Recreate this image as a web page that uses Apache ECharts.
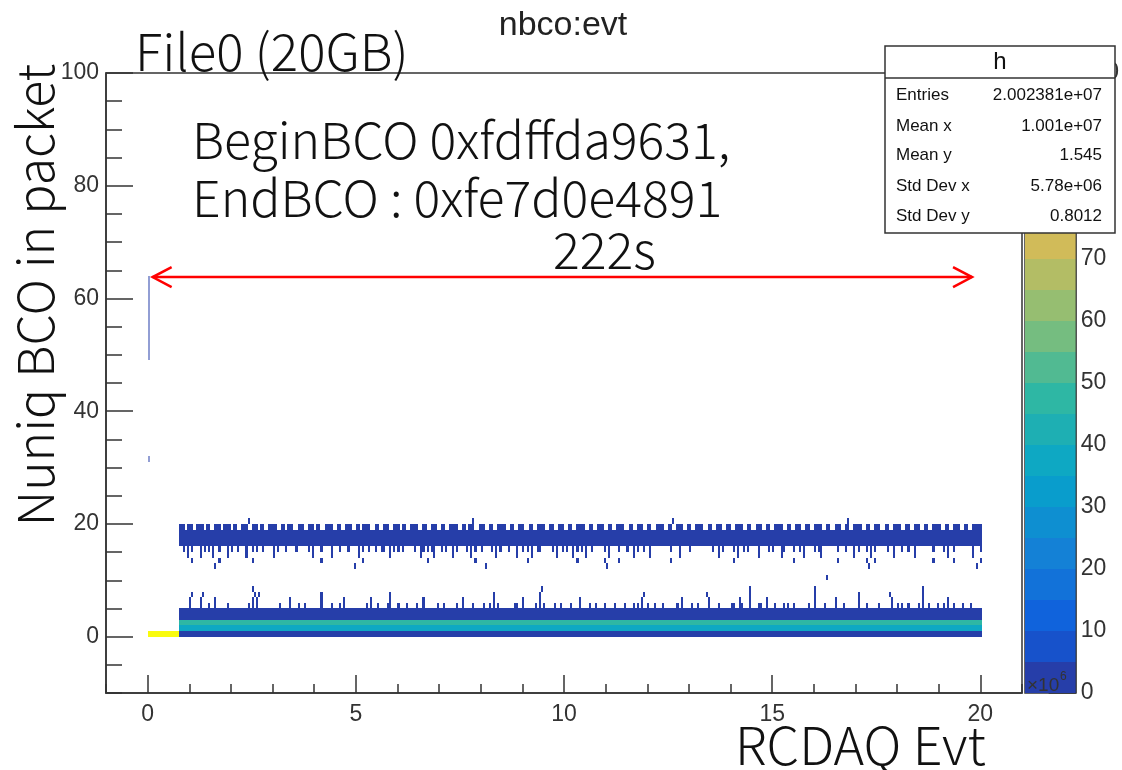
<!DOCTYPE html>
<html><head><meta charset="utf-8">
<script src="https://cdn.jsdelivr.net/npm/echarts@6/dist/echarts.min.js"></script>
<style>html,body{margin:0;padding:0;background:#fff}#c{width:1122px;height:770px}</style>
</head><body><div id="c"></div>
<script>
// ---------------- data ----------------
const xTickLabels = [0, 5, 10, 15, 20];
const yTickLabels = [0, 20, 40, 60, 80, 100];
const zTickLabels = [0, 10, 20, 30, 40, 50, 60, 70, 80, 90, 100];
const zLevels = [0, 5, 10, 15, 20, 25, 30, 35, 40, 45, 50, 55, 60, 65, 70, 75, 80, 85, 90, 95, 100];
const statNames = ['Entries', 'Mean x', 'Mean y', 'Std Dev x', 'Std Dev y'];
const statValues = ['2.002381e+07', '1.001e+07', '1.545', '5.78e+06', '0.8012'];

const xBin = 0.05;               // RCDAQ Evt bin width (x10^6 evt)
// dense rows (Nuniq BCO bin) and their counts (x10^6)
const denseRows   = [0, 1, 2, 3, 4, 16, 17, 18];
const denseCounts = [4, 37, 48, 4, 3, 3, 3, 3];
const denseRange  = [0.75, 20.05];
// early events: row 0 saturated
const earlyRange = [0.0, 0.75];
const earlyRow = 0;
const earlyCount = 100;
const sparseCount = 2;

// partially filled top row of the upper band (filled runs)
const row19Runs = [[0.75,0.85],[0.95,1.05],[1.15,1.30],[1.40,1.45],[1.60,1.70],[1.80,1.95],[2.05,2.10],[2.25,2.35],[2.50,2.60],[2.70,2.75],[2.90,3.05],[3.20,3.25],[3.35,3.45],[3.60,3.70],[3.85,3.95],[4.05,4.10],[4.25,4.40],[4.55,4.60],[4.75,4.85],[5.00,5.05],[5.15,5.30],[5.45,5.50],[5.65,5.75],[5.90,6.00],[6.10,6.15],[6.30,6.45],[6.60,6.65],[6.80,6.90],[7.05,7.10],[7.25,7.40],[7.55,7.60],[7.70,7.80],[7.95,8.05],[8.20,8.25],[8.40,8.55],[8.70,8.75],[8.90,9.00],[9.15,9.20],[9.35,9.50],[9.65,9.70],[9.85,9.95],[10.10,10.15],[10.30,10.45],[10.60,10.65],[10.80,10.90],[11.05,11.10],[11.25,11.40],[11.55,11.60],[11.75,11.85],[12.00,12.05],[12.20,12.35],[12.50,12.55],[12.70,12.80],[12.95,13.00],[13.15,13.30],[13.45,13.50],[13.65,13.75],[13.90,13.95],[14.10,14.25],[14.40,14.45],[14.60,14.70],[14.85,14.90],[15.05,15.20],[15.35,15.40],[15.55,15.65],[15.80,15.85],[16.00,16.15],[16.30,16.35],[16.50,16.60],[16.75,16.80],[16.95,17.10],[17.25,17.30],[17.45,17.55],[17.70,17.75],[17.90,18.05],[18.20,18.25],[18.40,18.50],[18.65,18.70],[18.85,19.00],[19.15,19.20],[19.35,19.45],[19.60,19.65],[19.80,20.00]];
const row20X = [2.40, 7.80, 12.60, 16.80];
const row15X = [0.84,0.94,1.06,1.25,1.35,1.45,1.57,1.68,1.90,2.00,2.14,2.33,2.52,2.60,2.76,2.98,3.10,3.30,3.55,3.85,3.97,4.13,4.38,4.62,4.80,5.03,5.17,5.30,5.45,5.58,5.66,5.78,5.90,6.02,6.10,6.42,6.54,6.62,6.70,6.78,6.86,7.06,7.14,7.30,7.38,7.66,7.74,7.86,8.02,8.26,8.34,8.46,8.66,8.86,9.02,9.10,9.22,9.34,9.42,9.70,9.78,9.94,10.06,10.18,10.30,10.42,10.50,10.63,10.94,11.06,11.30,11.51,11.63,11.75,11.88,12.07,12.55,12.74,12.98,13.56,13.70,13.82,14.04,14.16,14.28,14.40,14.64,14.90,15.00,15.19,15.26,15.48,15.67,15.75,15.99,16.08,16.15,16.57,16.75,16.95,17.07,17.24,17.36,17.43,17.76,17.91,18.08,18.25,18.39,18.87,19.09,19.21,19.35,19.81,19.98];
const row14X = [0.94,1.25,1.57,1.90,2.33,2.98,3.97,4.38,5.03,5.78,6.54,6.86,7.30,7.74,8.34,8.86,9.22,9.78,10.18,10.50,11.06,11.63,12.07,12.74,13.70,14.16,14.64,15.19,15.75,16.15,16.95,17.36,17.91,18.39,19.21,19.81];
const row13X = [1.06,1.68,2.52,4.13,5.17,6.70,7.86,9.10,10.30,10.94,11.30,12.55,14.04,15.48,16.57,17.24,17.43,18.87,19.35,19.98];
const row12X = [1.61,4.95,8.10,11.00,17.30,19.90];
const row10X = [16.30];
const row5X = [1.00,1.25,1.44,1.61,1.92,2.38,2.50,2.62,3.17,3.41,3.58,3.73,4.13,4.38,4.62,4.69,5.26,5.34,5.50,5.75,5.82,5.99,6.20,6.45,6.60,6.95,7.10,7.42,7.54,7.78,8.06,8.22,8.30,8.42,8.78,8.86,8.98,9.30,9.42,9.50,9.75,9.90,10.15,10.35,10.60,10.75,10.95,11.19,11.43,11.67,11.75,11.87,11.99,12.15,12.35,12.71,12.79,13.07,13.22,13.43,13.71,13.99,14.07,14.19,14.27,14.43,14.67,14.71,14.87,15.03,15.23,15.35,15.51,15.83,15.99,16.23,16.51,16.71,17.03,17.23,17.27,17.55,17.84,18.00,18.08,18.24,18.48,18.60,18.76,18.96,19.12,19.20,19.36,19.56,19.76];
const row6X = [1.00,1.25,1.61,2.50,2.62,3.41,4.13,4.69,5.34,5.82,6.60,7.54,8.30,8.98,9.42,10.35,11.87,12.79,13.43,14.19,14.43,14.87,15.99,16.51,17.03,17.84,18.60,19.20];
const row7X = [1.05,1.30,2.55,2.65,4.13,5.80,8.30,9.42,11.90,13.40,14.45,16.00,17.05,17.80,18.60];
const row8X = [2.50,9.45,14.45,16.00,18.60];
// isolated entries at evt ~ 0
const zeroColRows = [49,50,51,52,53,54,55,56,57,58,59,60,61,62,63,31];
const zeroColCount = 1;
// annotation arrow (222 s span)
const arrowX = [0.12, 19.80];
const arrowY = 63.8;

// ---------------- palette (ROOT kBird) ----------------
const birdStops = [0, 0.125, 0.25, 0.375, 0.5, 0.625, 0.75, 0.875, 1];
const birdColors = ['#352a87','#0f5cdd','#1481d6','#06a4ca','#2eb7a4','#87bf77','#d1bb59','#fec832','#f9fb0e'];
function hex2rgb(h){return [parseInt(h.substr(1,2),16),parseInt(h.substr(3,2),16),parseInt(h.substr(5,2),16)];}
function bird(t){
  t = Math.max(0, Math.min(1, t));
  for (let i = 1; i < birdStops.length; i++) {
    if (t <= birdStops[i]) {
      const f = (t - birdStops[i-1]) / (birdStops[i] - birdStops[i-1]);
      const a = hex2rgb(birdColors[i-1]), b = hex2rgb(birdColors[i]);
      return 'rgb(' + a.map((v,k)=>Math.round(v + (b[k]-v)*f)).join(',') + ')';
    }
  }
  return birdColors[birdColors.length-1];
}
const nLev = zLevels.length - 1;
const pieces = [];
for (let k = 0; k < nLev; k++) {
  const p = {gte: zLevels[k], color: bird((k + 0.99) / nLev)};
  if (k === nLev - 1) p.lte = zLevels[k+1]; else p.lt = zLevels[k+1];
  pieces.push(p);
}

// ---------------- build cells ----------------
const cells = [];
function addRun(x0, x1, row, count){ cells.push([x0, x1, row, row + 1, count]); }
function addBin(x, row, count){ const x0 = Math.round(x / xBin) * xBin; addRun(x0, x0 + xBin, row, count); }
addRun(earlyRange[0], earlyRange[1], earlyRow, earlyCount);
denseRows.forEach((r, i) => addRun(denseRange[0], denseRange[1], r, denseCounts[i]));
row19Runs.forEach(([a, b]) => addRun(a, b + xBin, 19, sparseCount));
[[20,row20X],[15,row15X],[14,row14X],[13,row13X],[12,row12X],[10,row10X],[5,row5X],[6,row6X],[7,row7X],[8,row8X]]
  .forEach(([r, xs]) => xs.forEach(x => addBin(x, r, sparseCount)));
const zeroCells = zeroColRows.map(r => [0, xBin, r, r + 1, zeroColCount]);
const colorbarCells = [];
for (let k = 0; k < nLev; k++) colorbarCells.push([0, 1, zLevels[k], zLevels[k+1], k]);

function makeRender(opacity){
  return function(params, api){
    const a = api.coord([api.value(0), api.value(3)]);
    const b = api.coord([api.value(1), api.value(2)]);
    const x = Math.round(a[0]), y = Math.round(a[1]);
    const w = Math.max(1, Math.round(b[0]) - x), h = Math.max(1, Math.round(b[1]) - y);
    return {type: 'rect', shape: {x, y, width: w, height: h}, style: {fill: api.visual('color'), opacity: opacity}};
  };
}

const tickFont = 'Liberation Sans';
const axisCol = '#333';
const annoFont = '"Noto Sans CJK JP", "Noto Sans", sans-serif';
const statRowY = [95, 126, 155, 186, 216];

const chart = echarts.init(document.getElementById('c'));
const option = {
  animation: false,
  backgroundColor: '#fff',
  title: {text: 'nbco:evt', left: 558, top: 4, textAlign: 'center',
    textStyle: {fontFamily: tickFont, fontSize: 34, fontWeight: 'normal', color: '#222'}},
  grid: [
    {left: 106, top: 73, width: 916, height: 620, show: true, borderColor: axisCol, borderWidth: 1.5, backgroundColor: 'transparent'},
    {left: 1025, top: 73, width: 55, height: 620, show: true, borderColor: axisCol, borderWidth: 1.5, backgroundColor: 'transparent'}
  ],
  xAxis: [
    {gridIndex: 0, type: 'value', min: -1, max: 21, splitLine: {show: false},
     axisLine: {show: true, onZero: false, lineStyle: {color: axisCol, width: 1.5}},
     axisTick: {show: true, inside: true, length: 18, customValues: xTickLabels, lineStyle: {color: axisCol, width: 1.5}},
     axisLabel: {customValues: xTickLabels, margin: 10, fontFamily: tickFont, fontSize: 23, color: '#333'}},
    {gridIndex: 0, type: 'value', min: -1, max: 21, interval: 1, splitLine: {show: false}, position: 'bottom',
     axisLine: {show: false, onZero: false}, axisLabel: {show: false},
     axisTick: {show: true, inside: true, length: 9, lineStyle: {color: axisCol, width: 1.5}}},
    {gridIndex: 1, type: 'value', min: 0, max: 1, show: false}
  ],
  yAxis: [
    {gridIndex: 0, type: 'value', min: -10, max: 100, splitLine: {show: false}, position: 'left',
     axisLine: {show: true, onZero: false, lineStyle: {color: axisCol, width: 1.5}},
     axisTick: {show: true, inside: true, length: 27, customValues: yTickLabels, lineStyle: {color: axisCol, width: 1.5}},
     axisLabel: {customValues: yTickLabels, margin: 7, fontFamily: tickFont, fontSize: 23, color: '#333'}},
    {gridIndex: 0, type: 'value', min: -10, max: 100, interval: 5, splitLine: {show: false}, position: 'left',
     axisLine: {show: false, onZero: false}, axisLabel: {show: false},
     axisTick: {show: true, inside: true, length: 16, lineStyle: {color: axisCol, width: 1.5}}},
    {gridIndex: 1, type: 'value', min: 0, max: 100, position: 'right', splitLine: {show: false},
     axisLine: {show: true, onZero: false, lineStyle: {color: axisCol, width: 1.5}},
     axisTick: {show: true, inside: true, length: 27, customValues: zTickLabels, lineStyle: {color: axisCol, width: 1.5}},
     axisLabel: {customValues: zTickLabels, margin: 5, fontFamily: tickFont, fontSize: 23, color: '#333'}}
  ],
  visualMap: [{type: 'piecewise', show: false, dimension: 4, seriesIndex: [0, 1], pieces: pieces}],
  series: [
    {type: 'custom', name: 'h', xAxisIndex: 0, yAxisIndex: 0, data: cells, renderItem: makeRender(1),
     encode: {x: [0, 1], y: [2, 3]}, clip: true, silent: true},
    {type: 'custom', name: 'h0', xAxisIndex: 0, yAxisIndex: 0, data: zeroCells, renderItem: makeRender(0.5),
     encode: {x: [0, 1], y: [2, 3]}, clip: true, silent: true},
    {type: 'custom', name: 'palette', xAxisIndex: 2, yAxisIndex: 2, data: colorbarCells, silent: true,
     encode: {x: [0, 1], y: [2, 3]},
     renderItem: function(params, api){
       const a = api.coord([api.value(0), api.value(3)]);
       const b = api.coord([api.value(1), api.value(2)]);
       const y = Math.round(a[1]);
       return {type: 'rect', shape: {x: a[0], y: y, width: b[0] - a[0], height: Math.round(b[1]) - y},
               style: {fill: pieces[api.value(4)].color}};
     }},
    {type: 'custom', name: 'arrow', xAxisIndex: 0, yAxisIndex: 0, silent: true,
     data: [[arrowX[0], arrowX[1], arrowY]], encode: {x: [0, 1], y: [2]},
     renderItem: function(params, api){
       const p0 = api.coord([api.value(0), api.value(2)]);
       const p1 = api.coord([api.value(1), api.value(2)]);
       const st = {stroke: '#ff0000', lineWidth: 2.5, fill: null};
       const hx = 19, hy = 10;
       return {type: 'group', children: [
         {type: 'line', shape: {x1: p0[0], y1: p0[1], x2: p1[0], y2: p1[1]}, style: st},
         {type: 'polyline', shape: {points: [[p0[0] + hx, p0[1] - hy], [p0[0], p0[1]], [p0[0] + hx, p0[1] + hy]]}, style: st},
         {type: 'polyline', shape: {points: [[p1[0] - hx, p1[1] - hy], [p1[0], p1[1]], [p1[0] - hx, p1[1] + hy]]}, style: st}
       ]};
     }}
  ],
  graphic: [
    {type: 'text', x: 135, y: 52, z: 50, style: {text: 'File0 (20GB)', font: '300 51px ' + annoFont, fill: '#111', textAlign: 'left', textVerticalAlign: 'middle'}},
    {type: 'text', x: 192, y: 140, z: 50, style: {text: 'BeginBCO 0xfdffda9631,', font: '300 50px ' + annoFont, fill: '#111', textAlign: 'left', textVerticalAlign: 'middle'}},
    {type: 'text', x: 192, y: 198, z: 50, style: {text: 'EndBCO : 0xfe7d0e4891', font: '300 50px ' + annoFont, fill: '#111', textAlign: 'left', textVerticalAlign: 'middle'}},
    {type: 'text', x: 553, y: 250, z: 50, style: {text: '222s', font: '300 50px ' + annoFont, fill: '#111', textAlign: 'left', textVerticalAlign: 'middle'}},
    {type: 'text', x: 735, y: 745, z: 50, style: {text: 'RCDAQ Evt', font: '300 52px ' + annoFont, fill: '#111', textAlign: 'left', textVerticalAlign: 'middle'}},
    {type: 'text', x: 35, y: 295, rotation: Math.PI / 2, z: 50, style: {text: 'Nuniq BCO in packet', font: '300 50px ' + annoFont, fill: '#111', textAlign: 'center', textVerticalAlign: 'middle'}},
    {type: 'text', x: 1027, y: 686, z: 50, style: {text: '\u00d710', font: '19px ' + tickFont, fill: '#333', textAlign: 'left', textVerticalAlign: 'middle'}},
    {type: 'text', x: 1060, y: 677, z: 50, style: {text: '6', font: '12px ' + tickFont, fill: '#333', textAlign: 'left', textVerticalAlign: 'middle'}},
    // stats box
    {type: 'rect', z: 100, zlevel: 1, shape: {x: 885, y: 46, width: 230, height: 187}, style: {fill: '#fff', stroke: '#333', lineWidth: 1.5}},
    {type: 'line', z: 101, zlevel: 1, shape: {x1: 885, y1: 78, x2: 1115, y2: 78}, style: {stroke: '#333', lineWidth: 1.5}},
    {type: 'text', z: 101, zlevel: 1, x: 1000, y: 62, style: {text: 'h', font: '24px ' + tickFont, fill: '#111', textAlign: 'center', textVerticalAlign: 'middle'}}
  ].concat(statNames.map((n, i) => ({type: 'text', z: 101, zlevel: 1, x: 896, y: statRowY[i],
        style: {text: n, font: '17px ' + tickFont, fill: '#111', textAlign: 'left', textVerticalAlign: 'middle'}})))
   .concat(statValues.map((v, i) => ({type: 'text', z: 101, zlevel: 1, x: 1102, y: statRowY[i],
        style: {text: v, font: '17px ' + tickFont, fill: '#111', textAlign: 'right', textVerticalAlign: 'middle'}})))
};
chart.setOption(option);
</script>
</body></html>
